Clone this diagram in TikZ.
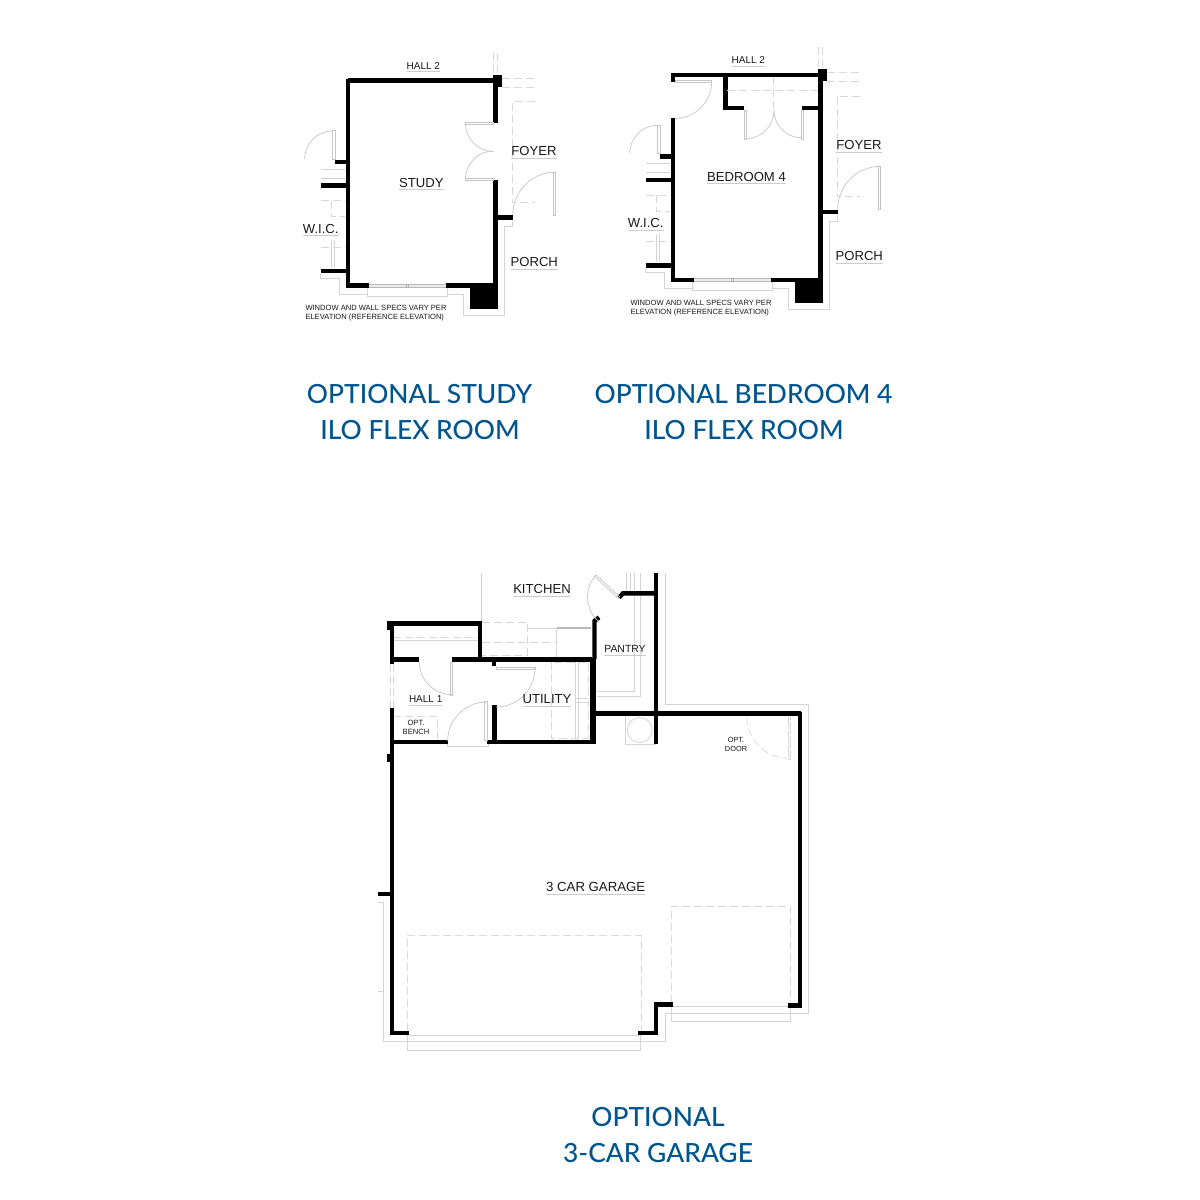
\documentclass[tikz,border=0pt]{standalone}
\usepackage{fontspec}
\setmainfont{Liberation Sans}
\newfontfamily\titlefont{Lato Medium}
\definecolor{titleblue}{HTML}{00558F}
\definecolor{lightline}{HTML}{D4D4D4}
\definecolor{dashline}{HTML}{D8D8D8}
\definecolor{doorline}{HTML}{C6C6C6}
\tikzset{
  wall/.style={line width=2.4pt,black},
  gwall/.style={line width=2.2pt,black},
  light/.style={line width=0.4pt,lightline},
  dashln/.style={line width=0.4pt,dashline,dash pattern=on 4pt off 2pt},
  door/.style={line width=0.35pt,doorline},
  lbl/.style={inner sep=0pt,outer sep=0pt,text=black!90,font=\fontsize{6.5pt}{7pt}\selectfont},
  under/.style={line width=0.35pt,black!20},
  ttl/.style={inner sep=0pt,text=titleblue,font=\titlefont\fontsize{13.2pt}{17pt}\selectfont},
}
\newcommand{\darc}[6][door]{\draw[#1] ({#2+#4*cos(#5)},{#3+#4*sin(#5)}) arc[start angle=#5,end angle=#6,radius=#4];}
% \ulab{name}{x}{y}{size}{text}
\newcommand{\ulab}[5]{\node[lbl,font=\fontsize{#4pt}{#4pt}\selectfont] (#1) at (#2,#3) {#5};
  \draw[under] ([yshift=-1.3pt]#1.base west) -- ([yshift=-1.3pt]#1.base east);}
\newcommand{\flexshell}[1]{%
  \draw[wall] (348,80.7) -- (495.3,80.7);
  \fill (493,75) rectangle (502,87);
  \draw[wall] (345.8,285.7) -- (369,285.7) (445.7,285.7) -- (497.5,285.7);
  \fill (470,285) rectangle (497.5,309);
  \draw[wall] (335,162) -- (348,162) (320.7,185.7) -- (348,185.7) (320.7,271) -- (348,271) (495.3,217.7) -- (512.7,217.7);
  % window
  \fill[black!8] (369,284) rectangle (445.7,287.5);
  \draw[line width=0.4pt,black!28] (369,284) -- (445.7,284) (369,287.5) -- (445.7,287.5);
  \draw[line width=0.3pt,black!30] (406,284) -- (406,287.5) (408,284) -- (408,287.5);
  \draw[light] (367.7,288) -- (367.7,296) -- (447.3,296) -- (447.3,288);
  % outer line
  \draw[light] (320.7,274) -- (320.7,278) -- (339.3,278) -- (339.3,294.3) -- (367.7,294.3) (447.3,294.3) -- (463.3,294.3) -- (463.3,315) -- (504.3,315) -- (504.3,226.7) -- (512.7,226.7) -- (512.7,221);
  % dashed context
  \draw[dashln] (493.3,53) -- (493.3,75) (497.3,53) -- (497.3,75) (501.7,78.3) -- (535,78.3) (501.7,87.3) -- (535,87.3);
  \draw[dashln] (535,101.7) -- (512,101.7) -- (512,202.3) -- (535,202.3);
  \draw[light] (320.7,169) -- (345,169);
  \draw[light] (320.7,178) -- (345,178);
  \draw[dashln] (320.7,200.7) -- (345,200.7) (331.7,200.7) -- (331.7,216.7) -- (345,216.7) (320.7,247.3) -- (345,247.3);
  \draw[light] (331.7,240) -- (331.7,268) (334.3,240) -- (334.3,268);
  % WIC door and foyer door
  \draw[door] (332.7,130.7) rectangle (335,159);
  \darc{332.7}{159}{28}{270}{180}
  \draw[door] (553.3,172) rectangle (555.7,215);
  \darc{555.7}{215}{43}{270}{180}
  % labels
  \ulab{hall#1}{423.3}{65.7}{5}{HALL 2}
  \ulab{foyer#1}{534}{150.8}{6.55}{FOYER}
  \ulab{wic#1}{320.7}{228.5}{6.55}{W.I.C.}
  \ulab{porch#1}{534.3}{262}{6.55}{PORCH}
  \node[lbl,font=\fontsize{3.78pt}{4.5pt}\selectfont,align=left,anchor=north west] (note#1) at (305.5,305.5) {WINDOW AND WALL SPECS VARY PER\\ELEVATION (REFERENCE ELEVATION)};
}
\begin{document}
\begin{tikzpicture}[x=0.5pt,y=-0.5pt,line cap=butt]
\useasboundingbox (0,0) rectangle (1200,1200);
\fill[white] (0,0) rectangle (1200,1200);
% ---------- STUDY ----------
\begin{scope}
\flexshell{a}
\draw[wall] (348,78.5) -- (348,287.5);
\draw[wall] (495.3,80) -- (495.3,122.7) (495.3,180) -- (495.3,288);
\draw[door] (465,122) -- (493.5,122) -- (493.5,124) -- (465,124) -- cycle;
\draw[door] (465,178.5) -- (493.5,178.5) -- (493.5,180.5) -- (465,180.5) -- cycle;
\darc{493.5}{123.5}{28}{180}{90}
\darc{493.5}{179}{28}{180}{270}
\ulab{study}{421.3}{182.5}{6.55}{STUDY}
\end{scope}
% ---------- BEDROOM 4 ----------
\begin{scope}[shift={(325,-5.7)}]
\flexshell{b}
\draw[wall] (348,78.5) -- (348,87.5) (348,124) -- (348,287.5);
\draw[wall] (495.3,80) -- (495.3,288);
\draw[wall] (400.7,80) -- (400.7,113.7) -- (419.3,113.7) (476.7,113.7) -- (495.3,113.7);
\draw[door] (350,86.4) rectangle (386.7,88.4);
\darc{350}{87.4}{36.7}{0}{90}
\draw[door] (419.3,116) rectangle (421.7,144.7) (478,116) rectangle (476,144.7);
\darc{420.5}{116}{28.5}{90}{0}
\darc{476.5}{116}{27.5}{90}{180}
\draw[dashln] (402,95.7) -- (493,95.7) (448.3,82.7) -- (448.3,116);
\ulab{bed}{421.5}{182.3}{6.55}{BEDROOM 4}
\end{scope}
% ---------- titles ----------
\node[ttl] (t1) at (419.5,394) {OPTIONAL STUDY};
\node[ttl] (t2) at (420,430) {ILO FLEX ROOM};
\node[ttl] (t3) at (743.5,394) {OPTIONAL BEDROOM 4};
\node[ttl] (t4) at (744,430) {ILO FLEX ROOM};
\node[ttl] (t5) at (658,1117) {OPTIONAL};
\node[ttl] (t6) at (658,1153) {3-CAR GARAGE};
% ---------- GARAGE ----------
% light lines
\draw[light] (481,573) -- (481,623);
\draw[light] (665,573) -- (665,704.3) -- (808.3,704.3) -- (808.3,1013.3) -- (665.7,1013.3) -- (665.7,1041.7) -- (383.3,1041.7) -- (383.3,902.7) -- (378.3,902.7) (378.3,991.7) -- (383.3,991.7);
\draw[light] (407.3,1032.5) -- (407.3,1050) -- (640.7,1050) -- (640.7,1032.5) (409,1035) -- (639,1035);
\draw[light] (671.7,1003.3) -- (671.7,1021.3) -- (790.7,1021.3) -- (790.7,1003.3) (673,1006) -- (788,1006);
\draw[dashln] (407.3,1031) -- (407.3,935) -- (641.7,935) -- (641.7,1031);
\draw[dashln] (671,1003) -- (671,906) -- (790.7,906) -- (790.7,1003);
% interior lights
\draw[dashln] (393,637) -- (478,637) (482,622) -- (527.7,622) -- (527.7,655) -- (482,655) (482,642.7) -- (556.7,642.7);
\draw[light] (393,640) -- (478,640) (527.7,628.3) -- (556.7,628.3) -- (556.7,657);
\draw[line width=0.9pt,black!28] (556.7,627.7) -- (591,627.7);
\draw[dashln] (551.7,662) rectangle (588.3,738.3);
\draw[light] (575,662) -- (575,738) (578.3,662) -- (578.3,738);
\draw[light] (575,698.3) -- (588,698.3) (575,702.3) -- (588,702.3);
\draw[light] (596.7,691.7) -- (634.3,691.7) -- (634.3,573) (596.7,696.7) -- (640,696.7) -- (640,573) (626,573) -- (626,592);
\draw[light] (630.7,573) -- (630.7,592);
\draw[dashln] (390,664) -- (390,708) (393,664) -- (393,708);
\draw[dashln] (393,716) -- (437.7,716) -- (437.7,739);
\draw[light] (447.7,741) -- (447.7,746.7) -- (488,746.7) -- (488,741);
% water heater
\draw[light] (625,715) rectangle (655,744);
\draw[light] (639.7,730) circle[radius=12.5];
% walls
\draw[gwall] (386.7,623.3) -- (482,623.3) (480,623.3) -- (480,660);
\fill (386.7,621.5) rectangle (391.7,630);
\fill (386.7,754) rectangle (391.7,762);
\draw[gwall] (391.7,623) -- (391.7,664) (391.7,708) -- (391.7,1034.7);
\draw[gwall] (391.7,659.3) -- (419,659.3) (452.3,659.3) -- (592,659.3);
\fill (492.3,660) rectangle (495.7,666);
\draw[gwall] (494.3,705) -- (494.3,741.7);
\draw[gwall] (391.7,741.7) -- (447.7,741.7) (486.7,741.7) -- (596,741.7);
\draw[line width=3pt] (593,657.5) -- (593,743.5);
\draw[gwall] (594.5,659) -- (594.5,621) -- (599,617.3);
\draw[gwall] (656,573) -- (656,744);
\draw[gwall] (656,593.3) -- (623,593.3) -- (619,597.5);
\draw[gwall] (596,713.3) -- (801,713.3) (800,712.3) -- (800,1005.3) -- (788,1005.3);
\draw[gwall] (673.3,1004.3) -- (656,1004.3) -- (656,1032.7) -- (638,1032.7);
\draw[gwall] (391.7,1032.7) -- (409.3,1032.7) (378.3,894) -- (391.7,894);
% doors
\draw[door] (450,662) rectangle (452.7,695);
\darc{452.3}{661.7}{33}{180}{90}
\draw[door] (496.7,667) rectangle (535.7,669);
\darc{496}{668}{39}{0}{90}
\draw[door] (484.3,701) rectangle (487,740);
\darc{486.7}{741}{39}{270}{180}
\draw[door] (620,597) -- (596,575) -- (594.6,576.5) -- (618.6,598.5);
\darc{620}{597}{32.5}{222}{130}
\draw[dashln,line width=0.35pt,dash pattern=on 6pt off 1pt] (788.3,716.7) -- (788.3,759) -- (790.7,759) -- (790.7,716.7);
\darc[dashln,line width=0.35pt]{788.3}{716.7}{41.5}{180}{90}
% labels
\ulab{kitchen}{542}{589}{6.55}{KITCHEN}
\ulab{pantry}{625}{649}{5.2}{PANTRY}
\ulab{hall1}{425.7}{699}{5}{HALL 1}
\ulab{utility}{547}{699}{6.55}{UTILITY}
\ulab{garage}{595.7}{887}{6.6}{3 CAR GARAGE}
\node[lbl,font=\fontsize{3.8pt}{4.6pt}\selectfont,align=center] (bench) at (416,727.5) {OPT.\\BENCH};
\node[lbl,font=\fontsize{3.7pt}{4.6pt}\selectfont,align=center] (optdoor) at (736,744.5) {OPT.\\DOOR};
\end{tikzpicture}
\end{document}
